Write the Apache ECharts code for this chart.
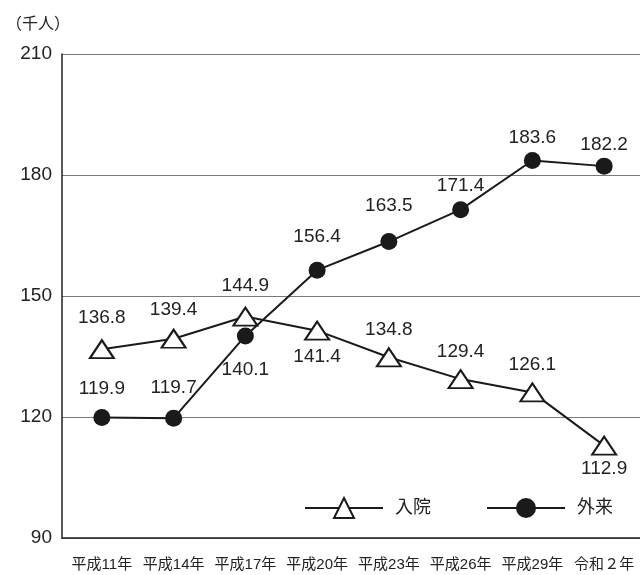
<!DOCTYPE html>
<html><head><meta charset="utf-8">
<script src="https://cdn.jsdelivr.net/npm/echarts@6/dist/echarts.min.js"></script>
<style>html,body{margin:0;padding:0;background:#fff}#c{width:640px;height:575px}</style>
</head><body><div id="c"></div>
<script>
const categories = ['平成11年','平成14年','平成17年','平成20年','平成23年','平成26年','平成29年','令和２年'];
const inpatient = [136.8, 139.4, 144.9, 141.4, 134.8, 129.4, 126.1, 112.9];
const outpatient = [119.9, 119.7, 140.1, 156.4, 163.5, 171.4, 183.6, 182.2];
const yTicks = [90, 120, 150, 180, 210];

// label placement (layout only)
const inpatientBelow = [false, false, false, true, false, false, false, true];
const outpatientBelow = [false, false, true, false, false, false, false, false];
const inpatientDist = [12, 10, 11, 7, 8, 8, 8, 4];
const outpatientDist = [10.5, 12.5, 15.5, 15.5, 17.5, 5.5, 4.5, 3.5];

const FONT = '"Liberation Sans", "Noto Sans CJK JP", sans-serif';
const chart = echarts.init(document.getElementById('c'));
function mk(vals, below, dist) {
  return vals.map((v, i) => ({
    value: v,
    label: { position: below[i] ? 'bottom' : 'top', distance: dist[i] }
  }));
}
const yMin = yTicks[0], yMax = yTicks[yTicks.length - 1];
chart.setOption({
  animation: false,
  title: { text: '（千人）', left: 1, top: 12, textStyle: { fontFamily: FONT, fontSize: 16, fontWeight: 'normal', color: '#222' } },
  legend: {
    left: 299, top: 492, itemWidth: 78, itemHeight: 25, itemGap: 55,
    textStyle: { fontFamily: FONT, fontSize: 18, color: '#222', padding: [0, 0, 0, 7] },
    data: ['入院', '外来']
  },
  grid: [
    { left: 62, right: 0, top: 54, bottom: 37 },
    { left: 66, right: -4, top: 54, bottom: 37 }
  ],
  xAxis: [{
    type: 'category', gridIndex: 0, data: categories, boundaryGap: true,
    axisLine: { lineStyle: { color: '#222', width: 1.5 } },
    axisTick: { show: false },
    axisLabel: { show: false }
  }, {
    type: 'category', gridIndex: 1, data: categories, boundaryGap: true,
    axisLine: { show: false },
    axisTick: { show: false },
    axisLabel: { fontFamily: FONT, fontSize: 15, color: '#222', margin: 19, interval: 0 }
  }],
  yAxis: [{
    type: 'value', gridIndex: 0, min: yMin, max: yMax, interval: 30,
    axisLine: { show: true, lineStyle: { color: '#222', width: 1.5 } },
    axisTick: { show: false },
    splitLine: { lineStyle: { color: '#7a7a7a', width: 1 } },
    axisLabel: { fontFamily: FONT, fontSize: 19, color: '#222', margin: 10 }
  }, {
    type: 'value', gridIndex: 1, min: yMin, max: yMax, interval: 30,
    show: false
  }],
  series: [
    {
      name: '入院', type: 'line', xAxisIndex: 1, yAxisIndex: 1,
      data: mk(inpatient, inpatientBelow, inpatientDist),
      symbol: 'triangle', symbolSize: [24, 18],
      lineStyle: { color: '#1a1a1a', width: 2 },
      itemStyle: { color: '#fff', borderColor: '#1a1a1a', borderWidth: 2 },
      label: { show: true, fontFamily: FONT, fontSize: 19, color: '#222' },
      z: 3
    },
    {
      name: '外来', type: 'line', xAxisIndex: 1, yAxisIndex: 1,
      data: mk(outpatient, outpatientBelow, outpatientDist),
      symbol: 'circle', symbolSize: 17,
      lineStyle: { color: '#1a1a1a', width: 2 },
      itemStyle: { color: '#1a1a1a', borderColor: '#1a1a1a', borderWidth: 0 },
      label: { show: true, fontFamily: FONT, fontSize: 19, color: '#222' },
      z: 4
    }
  ]
});
</script></body></html>
